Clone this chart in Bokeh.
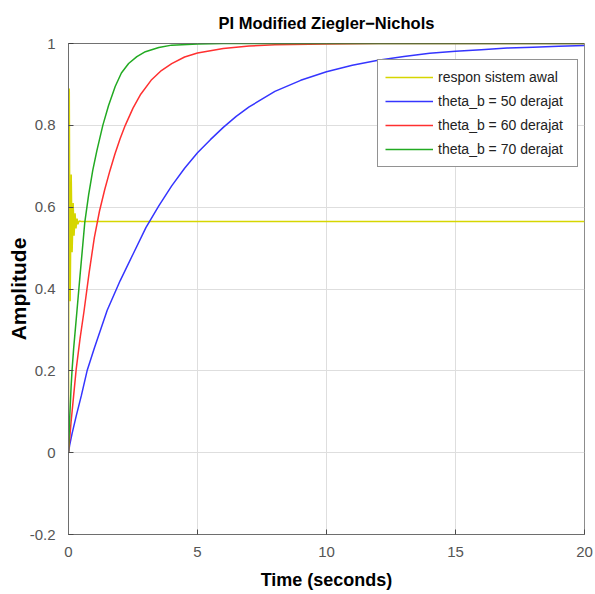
from bokeh.plotting import figure
from bokeh.models import Range1d, FixedTicker, CustomJSTickFormatter, Span, Legend, LegendItem
from bokeh.embed import file_html
from bokeh.resources import INLINE

# ---- data ----
x_ticks = [0, 5, 10, 15, 20]
y_ticks = [-0.2, 0, 0.2, 0.4, 0.6, 0.8, 1.0]

t_awal = [0, 0.01, 0.03, 0.05, 0.065, 0.085, 0.105, 0.125, 0.14, 0.16, 0.18, 0.2, 0.215,
          0.235, 0.255, 0.275, 0.29, 0.31, 0.33, 0.35, 0.365, 0.39, 0.42, 0.5, 20]
y_awal = [0, 0.45, 0.89, 0.55, 0.37, 0.52, 0.68, 0.58, 0.49, 0.54, 0.61, 0.57, 0.53,
          0.555, 0.585, 0.565, 0.548, 0.56, 0.572, 0.566, 0.558, 0.563, 0.566, 0.565, 0.565]

t_50 = [0, 0.05, 0.136, 0.3, 0.5, 0.72, 1.0, 1.5, 2.0, 2.5, 3.0, 3.5, 4.0, 4.5, 5.0, 5.5,
        6.0, 6.5, 7, 8, 9, 10, 11, 12, 13, 14, 15, 16, 17, 18, 19, 20]
y_50 = [0, 0.02, 0.046, 0.09, 0.14, 0.2, 0.255, 0.348, 0.42, 0.485, 0.55, 0.603, 0.652,
        0.695, 0.733, 0.765, 0.795, 0.822, 0.845, 0.883, 0.91, 0.931, 0.947, 0.959, 0.968,
        0.976, 0.981, 0.985, 0.989, 0.991, 0.993, 0.995]

t_60 = [0, 0.1, 0.2, 0.3, 0.45, 0.6, 0.8, 1.0, 1.2, 1.4, 1.6, 1.8, 2.0, 2.2, 2.5, 2.8,
        3.2, 3.6, 4.0, 4.5, 5, 6, 7, 8, 10, 12, 15, 20]
y_60 = [0, 0.075, 0.14, 0.205, 0.28, 0.345, 0.44, 0.525, 0.59, 0.642, 0.688, 0.73, 0.767,
        0.80, 0.842, 0.876, 0.91, 0.934, 0.951, 0.967, 0.977, 0.988, 0.994, 0.997, 0.999,
        1.0, 1.0, 1.0]

t_70 = [0, 0.05, 0.1, 0.136, 0.2, 0.33, 0.45, 0.63, 0.78, 0.94, 1.1, 1.33, 1.55, 1.81,
        2.05, 2.33, 2.65, 2.98, 3.5, 4.0, 5, 6, 10, 20]
y_70 = [0, 0.09, 0.16, 0.2, 0.255, 0.348, 0.435, 0.562, 0.63, 0.69, 0.738, 0.80, 0.848,
        0.895, 0.928, 0.951, 0.968, 0.98, 0.99, 0.996, 0.999, 1.0, 1.0, 1.0]

final_pi = 1.0

labels = ["respon sistem awal", "theta_b = 50 derajat", "theta_b = 60 derajat",
          "theta_b = 70 derajat"]
colors = ["#d6d600", "#3535ff", "#ff3030", "#22aa22"]

FONT = "Liberation Sans"

p = figure(width=595, height=594, output_backend="svg", toolbar_location=None,
           x_range=Range1d(0, 20), y_range=Range1d(-0.2, 1.0),
           min_border_left=68, min_border_right=11, min_border_top=43, min_border_bottom=60,
           title="PI Modified Ziegler\u2212Nichols")

p.background_fill_color = "white"
p.border_fill_color = "white"
p.outline_line_color = "#8c8c8c"
p.outline_line_width = 1

p.title.align = "center"
p.title.text_font = FONT
p.title.text_font_size = "16.5px"
p.title.text_font_style = "bold"
p.title.text_color = "#000000"
p.title.standoff = 23

# grids
p.xgrid.ticker = FixedTicker(ticks=x_ticks)
p.ygrid.ticker = FixedTicker(ticks=y_ticks)
for g in (p.xgrid, p.ygrid):
    g.grid_line_color = "#dedede"
    g.grid_line_width = 1

# axes
p.xaxis.ticker = FixedTicker(ticks=x_ticks)
p.yaxis.ticker = FixedTicker(ticks=y_ticks)
p.yaxis.formatter = CustomJSTickFormatter(code="return Number(tick.toFixed(1)).toString();")
for ax in (p.xaxis, p.yaxis):
    ax.axis_line_color = "#6e6e6e"
    ax.major_tick_line_color = "#4a4a4a"
    ax.major_tick_in = 5
    ax.major_tick_out = 0
    ax.minor_tick_line_color = None
    ax.major_label_text_font = FONT
    ax.major_label_text_font_size = "15px"
    ax.major_label_text_color = "#555555"
    ax.axis_label_text_font = FONT
    ax.axis_label_text_font_style = "bold"
    ax.axis_label_text_color = "#000000"

p.xaxis.axis_label = "Time (seconds)"
p.xaxis.axis_label_text_font_size = "18px"
p.xaxis.major_label_standoff = 12
p.xaxis.axis_label_standoff = 10

p.yaxis.axis_label = "Amplitude"
p.yaxis.axis_label_text_font_size = "21px"
p.yaxis.major_label_standoff = 13
p.yaxis.axis_label_standoff = -3

# curves
series = [(t_awal, y_awal), (t_50, y_50), (t_60, y_60), (t_70, y_70)]
renderers = []
for (tx, ty), c in zip(series, colors):
    r = p.line(tx, ty, line_color=c, line_width=1.5)
    renderers.append(r)

# steady-state dotted line at the final value
p.add_layout(Span(location=final_pi, dimension="width", line_color="#222222",
                  line_dash="1 1", line_width=1))

legend = Legend(items=[LegendItem(label=l, renderers=[r]) for l, r in zip(labels, renderers)],
                location=(309, 367))
legend.label_text_font = FONT
legend.label_text_font_size = "14px"
legend.label_text_color = "#222222"
legend.glyph_width = 48
legend.glyph_height = 20
legend.label_height = 20
legend.label_width = 132
legend.label_standoff = 5
legend.spacing = 4
legend.padding = 7
legend.margin = 0
legend.border_line_color = "#262626"
legend.border_line_width = 1
legend.background_fill_color = "white"
legend.background_fill_alpha = 1
p.add_layout(legend, "center")

open("out.html", "w").write(file_html(p, INLINE))
